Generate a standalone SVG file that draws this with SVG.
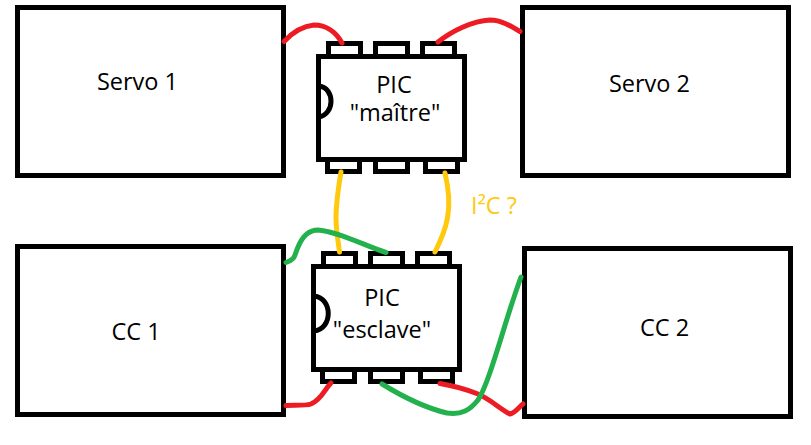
<svg xmlns="http://www.w3.org/2000/svg" width="811" height="445" viewBox="0 0 811 445">
<style>
.box{fill:#fff;stroke:#000;stroke-width:5}
.notch{fill:none;stroke:#000;stroke-width:5}
text{font-family:"Open Sans","Liberation Sans",sans-serif;font-size:23.5px;fill:#000;text-anchor:middle}
.w{fill:none;stroke-width:5;stroke-linecap:round;stroke-linejoin:round}
.r{stroke:#ed1c24}.g{stroke:#22b14c}.y{stroke:#ffc90e}
</style>
<rect width="811" height="445" fill="#fff"/>
<g id="servo1"><rect class="box" x="17.5" y="7.5" width="266" height="168"/><text x="137.500" y="90">Servo 1</text></g>
<g id="servo2"><rect class="box" x="522.5" y="7.5" width="266" height="168"/><text x="649.500" y="92">Servo 2</text></g>
<g id="cc1"><rect class="box" x="17.5" y="246.5" width="266" height="168"/><text x="136" y="340">CC 1</text></g>
<g id="cc2"><rect class="box" x="524.5" y="248.5" width="266" height="168"/><text x="664.500" y="336">CC 2</text></g>
<g id="pic-maitre">
<rect class="box" x="328.5" y="43.5" width="32" height="14"/><rect class="box" x="375.5" y="43.5" width="32" height="14"/><rect class="box" x="422.5" y="43.5" width="32" height="14"/>
<rect class="box" x="327.5" y="157.5" width="32" height="14"/><rect class="box" x="375.5" y="157.5" width="32" height="14"/><rect class="box" x="425.5" y="157.5" width="32" height="14"/>
<rect class="box" x="318.5" y="56.5" width="146" height="103"/>
<path class="notch" d="M319 86C335 88 335 114 319 117"/>
<text x="394" y="93">PIC</text><text x="395" y="121">"maître"</text>
</g>
<g id="pic-esclave">
<rect class="box" x="323.5" y="253.5" width="32" height="14"/><rect class="box" x="370.5" y="253.5" width="32" height="14"/><rect class="box" x="417.5" y="253.5" width="32" height="14"/>
<rect class="box" x="322.5" y="368.5" width="32" height="13"/><rect class="box" x="370.5" y="368.5" width="32" height="13"/><rect class="box" x="420.5" y="368.5" width="32" height="13"/>
<rect class="box" x="313.5" y="266.5" width="146" height="103"/>
<path class="notch" d="M314 296C333 298 333 329 314 331"/>
<text x="382" y="306">PIC</text><text x="382" y="338">"esclave"</text>
</g>
<g id="connectors">
<path class="w y" d="M341 172C338 190 336 205 336 218C336 230 338 240 339.5 252"/>
<path class="w y" d="M445 173C449 190 450 205 447.500 218C445 232 440 242 435 252"/>
<path class="w r" d="M284 41.500C292 33 303 26 314 25C326 25 336 32 342 43"/>
<path class="w r" d="M438 42C452 31 472 21 490 20C501 20 511 26 520 31.500"/>
<path class="w r" d="M286 405.500C295 405 305 406 311 404C322 399 324 390 331 383"/>
<path class="w r" d="M440 383.500C455 386 468 390 478 394C490 399 500 409 510 414C515 413 519 407 523 404"/>
<path class="w g" d="M286 262.500C296 259 294 256 298 247C303 235 310 230 318 230C340 232 365 246 386 252.500"/>
<path class="w g" d="M382 384C400 395 425 408 447 413C462 415 470 410 478 400C490 382 505 320 521 277"/>
</g>
<text x="494" y="214" style="fill:#ffc90e">I²C ?</text>
</svg>
